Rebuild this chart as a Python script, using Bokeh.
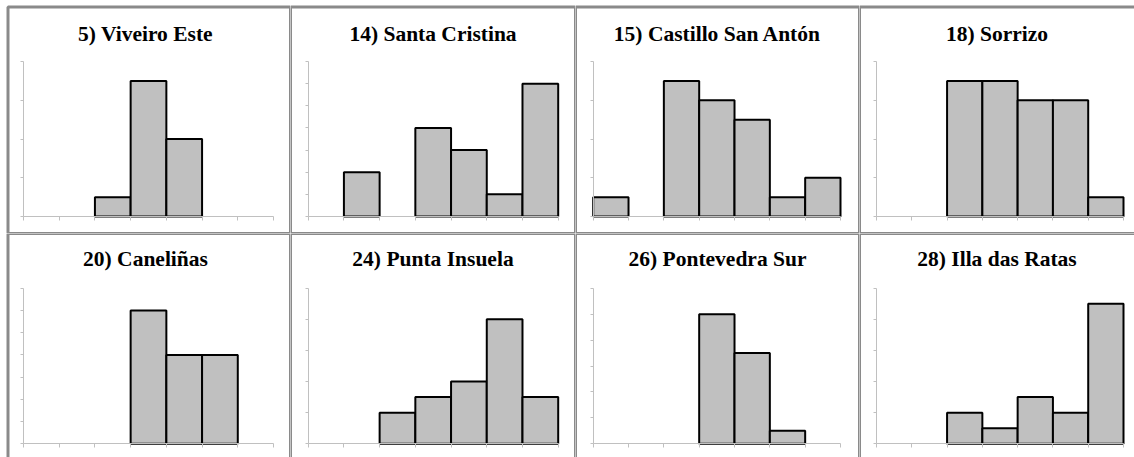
from bokeh.plotting import figure
from bokeh.models import Range1d, LinearAxis, FixedTicker, BoxAnnotation, Label, CustomJSTickFormatter
from bokeh.layouts import gridplot
from bokeh.embed import file_html
from bokeh.resources import INLINE

# ---------------- data ----------------
titles = ["5) Viveiro Este", "14) Santa Cristina", "15) Castillo San Antón", "18) Sorrizo",
          "20) Caneliñas", "24) Punta Insuela", "26) Pontevedra Sur", "28) Illa das Ratas"]
bin_edges = [0, 1, 2, 3, 4, 5, 6, 7]
counts_viveiro = [0, 0, 1, 7, 4, 0, 0]
counts_santa_cristina = [0, 2, 0, 4, 3, 1, 6]
counts_castillo = [1, 0, 7, 6, 5, 1, 2]
counts_sorrizo = [0, 0, 7, 7, 6, 6, 1]
counts_canelinas = [0, 0, 0, 6, 4, 4, 0]
counts_punta_insuela = [0, 0, 2, 3, 4, 8, 3]
counts_pontevedra = [0, 0, 0, 10, 7, 1, 0]
counts_illa = [0, 0, 2, 1, 3, 2, 9]
y_max = [8, 7, 8, 8, 7, 10, 12, 10]
y_step = [2, 1, 2, 2, 1, 2, 2, 2]

all_counts = [counts_viveiro, counts_santa_cristina, counts_castillo, counts_sorrizo,
              counts_canelinas, counts_punta_insuela, counts_pontevedra, counts_illa]

# ---------------- layout (pixels) ----------------
col_widths = [290, 285, 284, 275]
row_heights = [233, 224]
col_left = [23, 17.7, 17.7, 17]
col_right = [17, 17.3, 19, 11]
row_top = [61, 54.7]
row_bottom = [17, 13.7]
title_offset = [33, 25.3]
outer_left = 7.5   # outer border of first column
outer_top = 6.5    # outer border of first row

BORDER = "#8a8a8a"
AXIS = "#c0c0c0"
BAR_FILL = "#c0c0c0"

rows = []
for r in range(2):
    row_figs = []
    for c in range(4):
        i = r * 4 + c
        w, h = col_widths[c], row_heights[r]
        nb = len(bin_edges) - 1
        ppb = (w - col_left[c] - col_right[c]) / nb
        x0 = bin_edges[0] - col_left[c] / ppb
        x1 = bin_edges[-1] + col_right[c] / ppb
        M = y_max[i]
        ppu = (h - row_top[r] - row_bottom[r]) / M
        y0 = -row_bottom[r] / ppu
        y1 = M + row_top[r] / ppu

        p = figure(width=w, height=h, x_range=Range1d(x0, x1), y_range=Range1d(y0, y1),
                   output_backend="svg", toolbar_location=None, min_border=0,
                   x_axis_type=None, y_axis_type=None)
        p.outline_line_color = None
        p.background_fill_color = "white"
        p.border_fill_color = "white"

        yax = LinearAxis(fixed_location=bin_edges[0], bounds=(0, M),
                         ticker=FixedTicker(ticks=list(range(0, M + 1, y_step[i]))),
                         formatter=CustomJSTickFormatter(code="return ''"),
                         axis_line_color=AXIS, axis_line_width=1,
                         major_tick_line_color=AXIS, major_tick_in=0, major_tick_out=3,
                         minor_tick_line_color=None)
        xax = LinearAxis(fixed_location=0, bounds=(bin_edges[0], bin_edges[-1]),
                         ticker=FixedTicker(ticks=bin_edges),
                         formatter=CustomJSTickFormatter(code="return ''"),
                         axis_line_color=AXIS, axis_line_width=1,
                         major_tick_line_color=AXIS, major_tick_in=0, major_tick_out=4,
                         minor_tick_line_color=None)
        p.add_layout(yax, "left")
        p.add_layout(xax, "below")

        counts = all_counts[i]
        lefts = [bin_edges[k] for k in range(nb) if counts[k] > 0]
        rights = [bin_edges[k + 1] for k in range(nb) if counts[k] > 0]
        tops = [counts[k] for k in range(nb) if counts[k] > 0]
        p.quad(left=lefts, right=rights, top=tops, bottom=0,
               fill_color=BAR_FILL, line_color="black", line_width=2)

        box_l = x0 + outer_left / ppb if c == 0 else x0
        box_r = x1 + 20 / ppb if c == 3 else x1
        box_t = y1 - outer_top / ppu if r == 0 else y1
        box_b = y0 - 20 / ppu if r == 1 else y0
        p.add_layout(Label(x=(x0 + x1) / 2, y=y1 - title_offset[r] / ppu, text=titles[i],
                           text_align="center", text_baseline="middle",
                           text_font="Liberation Serif", text_font_style="bold",
                           text_font_size="21.5px", text_color="black"))

        p.add_layout(BoxAnnotation(left=box_l, right=box_r, top=box_t, bottom=box_b,
                                   fill_color=None, fill_alpha=0,
                                   line_color=BORDER, line_alpha=1.0, line_width=3))
        row_figs.append(p)
    rows.append(row_figs)

grid = gridplot(rows, toolbar_location=None)
open("out.html", "w").write(file_html(grid, INLINE))
